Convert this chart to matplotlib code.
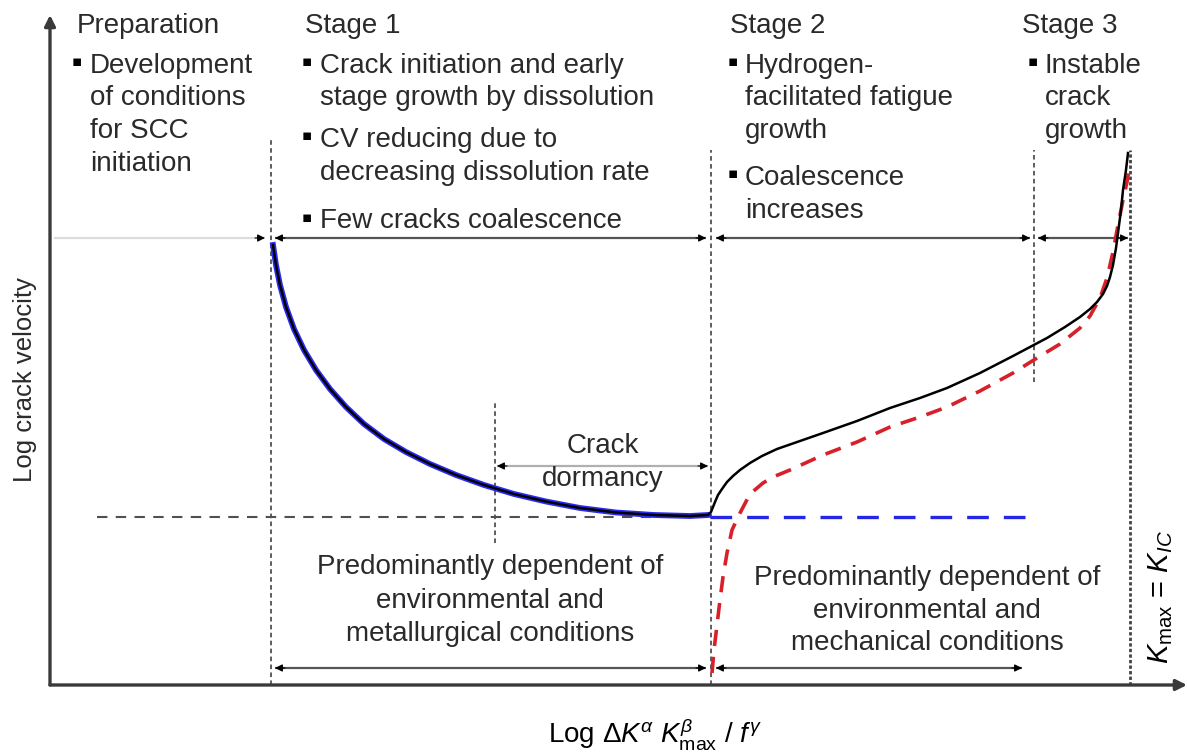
import numpy as np
import matplotlib.pyplot as plt

plt.rcParams['font.family'] = ['Liberation Sans', 'DejaVu Sans']
plt.rcParams['mathtext.fontset'] = 'custom'
plt.rcParams['mathtext.rm'] = 'Liberation Sans'
plt.rcParams['mathtext.it'] = 'Liberation Sans:italic'

TXT = '#2a2a2a'
FS = 20

# Schematic crack-velocity curves (x: log K-parameter, y: log crack velocity)
decay_x = [22.3, 22.6, 23.0, 23.6, 24.4, 25.4, 26.6, 28.0, 29.6, 31.4, 33.4, 35.6,
           38.0, 40.6, 43.4, 46.4, 49.6, 53.0, 56.6, 60.4, 64.0, 65.8]
decay_y = [44.0, 42.0, 40.0, 37.8, 35.6, 33.5, 31.5, 29.6, 27.8, 26.1, 24.6, 23.3,
           22.1, 21.0, 20.0, 19.1, 18.35, 17.7, 17.25, 17.0, 16.9, 17.0]
rise_x = [66.1, 66.3, 66.5, 66.8, 67.2, 67.7, 68.3, 69.0, 70.0, 71.2, 72.7, 75.0,
          77.3, 80.7, 84.0, 87.0, 89.7, 93.0, 96.3, 99.7, 101.5, 103.0, 104.0,
          104.7, 105.3, 105.7, 106.0, 106.3, 106.6, 106.8, 107.1, 107.3, 107.6, 107.8]
rise_y = [17.3, 17.8, 18.3, 19.0, 19.6, 20.3, 20.9, 21.5, 22.2, 22.9, 23.6, 24.4,
          25.2, 26.4, 27.7, 28.7, 29.7, 31.2, 32.9, 34.7, 35.8, 36.8, 37.6,
          38.3, 39.1, 39.9, 40.8, 42.0, 43.7, 45.2, 47.5, 49.5, 51.5, 53.2]
total_x = decay_x + rise_x
total_y = decay_y + rise_y

# dissolution-controlled contribution (blue)
diss_flat_x = [66.0, 97.5]
diss_flat_y = [16.8, 16.8]

# hydrogen-facilitated fatigue contribution (red)
fat_x = [66.2, 66.4, 66.7, 67.0, 67.3, 67.7, 68.2, 69.0, 70.0, 71.3, 72.3, 74.0,
         77.3, 80.7, 84.0, 87.0, 89.7, 93.0, 96.3, 98.7, 101.0, 103.0, 104.0,
         105.0, 105.7, 106.3, 106.8, 107.3, 107.7, 107.9]
fat_y = [1.2, 3.5, 6.0, 8.5, 10.8, 13.2, 15.5, 17.2, 19.1, 20.2, 20.8, 21.5,
         23.0, 24.3, 25.8, 26.8, 27.8, 29.4, 31.2, 32.7, 34.1, 35.7, 36.9,
         38.7, 40.7, 43.3, 46.0, 48.5, 50.3, 51.5]

threshold_y = 16.8
threshold_x = [4.7, 66.1]

# stage boundaries: x, top, bottom
bounds_x = [22.1, 44.5, 66.1, 98.4]
bounds_top = [54.5, 28.5, 53.5, 53.5]
bounds_bot = [0.0, 14.2, 0.0, 30.3]
kic_x = 108.0

# double-headed spans: x0, x1, y
stage_spans = [(22.5, 65.6, 44.7), (66.6, 98.0, 44.7), (98.8, 107.8, 44.7)]
bottom_spans = [(22.5, 65.6, 1.7), (66.6, 97.2, 1.7)]
dormancy_span = (44.7, 65.8, 21.9)

fig = plt.figure(figsize=(11.87, 7.54), dpi=100)
ax = fig.add_axes([50 / 1187, 69 / 754, 1137 / 1187, 670 / 754])
ax.set_xlim(0, 113.7)
ax.set_ylim(0, 67)
ax.axis('off')

# axes with arrows
ax.annotate('', xy=(113.7, 0), xytext=(0, 0), annotation_clip=False,
            arrowprops=dict(arrowstyle='-|>', lw=2.4, color='#3a3a3a',
                            mutation_scale=16, shrinkA=0, shrinkB=0))
ax.annotate('', xy=(0, 67), xytext=(0, 0), annotation_clip=False,
            arrowprops=dict(arrowstyle='-|>', lw=2.4, color='#3a3a3a',
                            mutation_scale=16, shrinkA=0, shrinkB=0))

# boundaries
for x, t, b in zip(bounds_x, bounds_top, bounds_bot):
    ax.plot([x, x], [b, t], color='#333333', lw=1.1, ls=(0, (3, 2.2)), zorder=2)
ax.plot([kic_x, kic_x], [0, 53.5], color='#444444', lw=2.0, ls=(0, (1.2, 0.8)), zorder=2)
ax.plot(threshold_x, [threshold_y, threshold_y], color='#505050', lw=1.5,
        ls=(0, (5, 4)), zorder=2)


def span(x0, x1, y, color, both=True):
    ax.plot([x0, x1], [y, y], color=color, lw=1.6, zorder=3, solid_capstyle='butt')
    heads = [(x1, x1 - 1.0)]
    if both:
        heads.append((x0, x0 + 1.0))
    for tip, tail in heads:
        ax.annotate('', xy=(tip, y), xytext=(tail, y),
                    arrowprops=dict(arrowstyle='-|>', color='black', lw=0.8,
                                    mutation_scale=11, shrinkA=0, shrinkB=0))


for x0, x1, y in stage_spans:
    span(x0, x1, y, '#555555')
for x0, x1, y in bottom_spans:
    span(x0, x1, y, '#555555')
span(*dormancy_span, '#b0b0b0')
span(0.4, 21.5, 44.7, '#dddddd', both=False)

# curves
ax.plot(decay_x, decay_y, color='#2a2af0', lw=4.2, zorder=4)
ax.plot(diss_flat_x, diss_flat_y, color='#2626e6', lw=2.4, ls=(0, (6.5, 4.5)), zorder=4)
ax.plot(fat_x, fat_y, color='#d8202a', lw=2.6, ls=(0, (4.5, 3)), zorder=4)
ax.plot(total_x, total_y, color='black', lw=1.8, zorder=5)

# stage headings and bullets
blocks = [
    ('Preparation', 2.7, 2.2, 4.0,
     [(61.9, True, 'Development'), (58.7, False, 'of conditions'),
      (55.4, False, 'for SCC'), (52.1, False, 'initiation')]),
    ('Stage 1', 25.5, 25.2, 27.0,
     [(61.9, True, 'Crack initiation and early'),
      (58.7, False, 'stage growth by dissolution'),
      (54.5, True, 'CV reducing due to'),
      (51.2, False, 'decreasing dissolution rate'),
      (46.4, True, 'Few cracks coalescence')]),
    ('Stage 2', 68.0, 67.8, 69.5,
     [(61.9, True, 'Hydrogen-'), (58.7, False, 'facilitated fatigue'),
      (55.4, False, 'growth'), (50.7, True, 'Coalescence'),
      (47.4, False, 'increases')]),
    ('Stage 3', 97.2, 97.8, 99.5,
     [(61.9, True, 'Instable'), (58.7, False, 'crack'), (55.4, False, 'growth')]),
]
for head, hx, bx, tx, lines in blocks:
    ax.text(hx, 65.9, head, fontsize=FS, color=TXT, va='center', ha='left')
    for y, bullet, s in lines:
        if bullet:
            ax.text(bx, y + 0.4, '\u25aa', fontsize=11, color='black',
                    va='center', ha='left', family='DejaVu Sans')
        ax.text(tx, y, s, fontsize=FS, color=TXT, va='center', ha='left')

ax.text(55.3, 23.9, 'Crack', fontsize=FS, color=TXT, ha='center', va='center')
ax.text(55.3, 20.6, 'dormancy', fontsize=FS, color=TXT, ha='center', va='center')

for y, s in zip([11.8, 8.4, 5.1], ['Predominantly dependent of', 'environmental and',
                                   'metallurgical conditions']):
    ax.text(44.0, y, s, fontsize=FS, color=TXT, ha='center', va='center')
for y, s in zip([10.7, 7.4, 4.2], ['Predominantly dependent of', 'environmental and',
                                   'mechanical conditions']):
    ax.text(87.7, y, s, fontsize=FS, color=TXT, ha='center', va='center')

ax.text(111.1, 8.8, r'$K_{\mathrm{max}}$ = $K_{IC}$', fontsize=21, color='black',
        rotation=90, ha='center', va='center')

ax.text(-2.5, 30.5, 'Log crack velocity', fontsize=18.5, color=TXT, rotation=90,
        ha='center', va='center', clip_on=False)
ax.text(60.5, -5.0, r'Log $\Delta K^{\alpha}\ K^{\beta}_{\mathrm{max}}$ / $f^{\gamma}$',
        fontsize=FS, color='black', ha='center', va='center', clip_on=False)

fig.savefig('out.png', dpi=100)
